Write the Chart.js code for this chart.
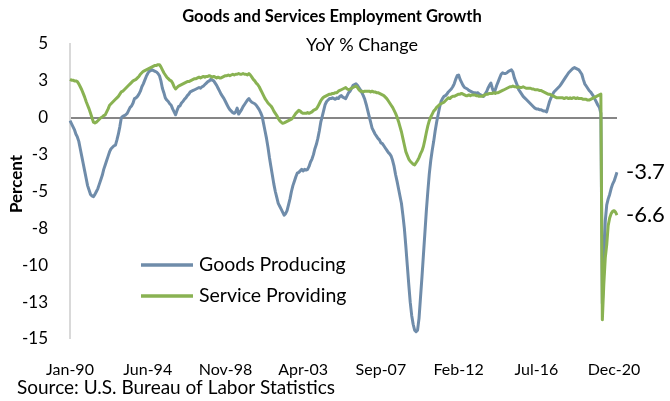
<!DOCTYPE html>
<html>
<head>
<meta charset="utf-8">
<script src="https://cdn.jsdelivr.net/npm/chart.js@4.4.1/dist/chart.umd.min.js"></script>
<style>
    body { margin: 0; background: #ffffff; }
    #grafica { display: block; }
</style>
</head>
<body>
<canvas id="grafica" width="670" height="401"></canvas>
<script>
// Datos mensuales, Jan-1990 a Feb-2021 (YoY % change)
let startYear = 1990;
let monthNames = ['Jan', 'Feb', 'Mar', 'Apr', 'May', 'Jun', 'Jul', 'Aug', 'Sep', 'Oct', 'Nov', 'Dec'];
let tickEvery = 53; // Jan-90, Jun-94, Nov-98 ... Dec-20

let goodsProducing = [
    -0.2, -0.4, -0.6, -0.8, -1.1, -1.3, -1.6, -2.1, -2.6, -3.1, -3.6, -4.1,
    -4.6, -4.9, -5.2, -5.3, -5.35, -5.2, -5.0, -4.8, -4.5, -4.2, -3.9, -3.5,
    -3.2, -2.9, -2.6, -2.3, -2.1, -2.0, -1.9, -1.85, -1.5, -1.1, -0.6, 0.0,
    0.1, 0.15, 0.2, 0.3, 0.5, 0.7, 0.8, 1.0, 1.3, 1.35, 1.45, 1.6,
    1.8, 2.1, 2.3, 2.55, 2.8, 3.0, 3.15, 3.2, 3.25, 3.2, 3.15, 3.1,
    3.0, 2.85, 2.5, 2.0, 1.7, 1.35, 1.2, 1.1, 0.95, 0.85, 0.6, 0.4,
    0.2, 0.5, 0.75, 0.8, 1.0, 1.1, 1.25, 1.35, 1.5, 1.6, 1.75, 1.8,
    1.85, 1.9, 1.95, 2.0, 2.05, 2.0, 2.1, 2.15, 2.25, 2.35, 2.45, 2.5,
    2.6, 2.55, 2.5, 2.35, 2.2, 2.0, 1.8, 1.6, 1.45, 1.3, 1.1, 0.9,
    0.7, 0.55, 0.45, 0.35, 0.3, 0.4, 0.65, 0.25, 0.4, 0.55, 0.75, 0.9,
    1.05, 1.2, 1.3, 1.15, 1.05, 1.0, 0.95, 0.85, 0.7, 0.55, 0.35, 0.1,
    -0.4, -0.9, -1.4, -2.0, -2.7, -3.3, -3.9, -4.5, -5.0, -5.4, -5.8, -6.0,
    -6.2, -6.4, -6.6, -6.5, -6.3, -5.9, -5.5, -5.0, -4.6, -4.3, -4.0, -3.75,
    -3.7, -3.6, -3.5, -3.6, -3.5, -3.55, -3.5, -3.3, -3.0, -2.8, -2.5, -2.1,
    -1.8, -1.4, -0.9, -0.3, 0.1, 0.5, 0.9, 1.1, 1.2, 1.3, 1.3, 1.35,
    1.3, 1.25, 1.35, 1.3, 1.45, 1.5, 1.4, 1.35, 1.3, 1.5, 1.7, 1.8,
    2.0, 2.2, 2.25, 2.3, 2.2, 2.05, 1.9, 1.7, 1.5, 1.25, 0.9, 0.5,
    0.1, -0.3, -0.7, -0.9, -1.1, -1.25, -1.4, -1.5, -1.7, -1.75, -1.9, -2.05,
    -2.2, -2.35, -2.45, -2.6, -2.9, -3.3, -3.85, -4.3, -4.8, -5.3, -5.8, -6.6,
    -7.5, -8.7, -10.0, -11.3, -12.5, -13.4, -14.0, -14.4, -14.5, -14.4, -13.6, -12.2,
    -10.8, -9.3, -7.8, -6.3, -5.0, -3.8, -2.9, -2.2, -1.6, -0.9, -0.3, 0.2,
    0.7, 1.1, 1.3, 1.45, 1.5, 1.6, 1.75, 1.85, 1.95, 2.1, 2.3, 2.6,
    2.85, 2.9, 2.6, 2.4, 2.2, 2.05, 2.0, 1.95, 1.85, 1.8, 1.75, 1.7,
    1.7, 1.65, 1.7, 1.6, 1.55, 1.5, 1.45, 1.6, 1.75, 2.0, 2.2, 2.35,
    2.0, 1.7, 1.9, 2.2, 2.45, 2.7, 2.95, 3.05, 3.0, 3.0, 3.05, 3.15,
    3.2, 3.25, 3.1, 2.7, 2.45, 2.2, 1.9, 1.75, 1.6, 1.45, 1.35, 1.25,
    1.15, 1.05, 0.95, 0.85, 0.75, 0.65, 0.6, 0.6, 0.55, 0.55, 0.5, 0.45,
    0.45, 0.4, 0.75, 1.1, 1.35, 1.55, 1.75, 1.85, 1.95, 2.05, 2.15, 2.3,
    2.45, 2.6, 2.75, 2.9, 3.05, 3.15, 3.25, 3.35, 3.4, 3.35, 3.3, 3.25,
    3.1, 2.95, 2.6, 2.3, 2.15, 2.0, 1.85, 1.75, 1.6, 1.45, 1.25, 1.05,
    0.85, 0.7, 0.3, -12.6, -10.2, -7.0, -5.9, -5.5, -5.2, -4.8, -4.5, -4.3,
    -4.0, -3.7
];

let serviceProviding = [
    2.6, 2.55, 2.55, 2.5, 2.5, 2.45, 2.3, 2.1, 1.9, 1.65, 1.4, 1.1,
    0.85, 0.6, 0.3, 0.0, -0.3, -0.35, -0.3, -0.2, -0.1, 0.0, 0.05, 0.15,
    0.2, 0.4, 0.6, 0.85, 0.95, 1.05, 1.15, 1.25, 1.35, 1.45, 1.6, 1.75,
    1.8, 1.9, 2.0, 2.1, 2.2, 2.3, 2.4, 2.5, 2.55, 2.6, 2.7, 2.8,
    2.95, 3.05, 3.15, 3.2, 3.25, 3.3, 3.35, 3.4, 3.45, 3.5, 3.55, 3.55,
    3.6, 3.6, 3.45, 3.25, 3.05, 2.9, 2.75, 2.65, 2.55, 2.5, 2.35, 2.1,
    1.95, 2.05, 2.15, 2.2, 2.25, 2.3, 2.35, 2.4, 2.45, 2.45, 2.5, 2.55,
    2.6, 2.65, 2.65, 2.7, 2.75, 2.7, 2.75, 2.8, 2.75, 2.8, 2.8, 2.85,
    2.8, 2.75, 2.8, 2.75, 2.7, 2.75, 2.7, 2.7, 2.75, 2.8, 2.85, 2.85,
    2.9, 2.85, 2.9, 2.95, 2.9, 2.95, 2.95, 3.0, 2.95, 2.95, 3.0, 2.95,
    2.95, 2.9, 3.0, 2.9, 2.75, 2.6, 2.5, 2.35, 2.25, 2.1, 1.9, 1.7,
    1.5, 1.3, 1.15, 1.0, 0.9, 0.8, 0.65, 0.45, 0.3, 0.15, -0.05, -0.2,
    -0.3, -0.38, -0.35, -0.3, -0.25, -0.2, -0.15, -0.1, 0.0, 0.15, 0.3, 0.4,
    0.5, 0.45, 0.35, 0.3, 0.3, 0.3, 0.35, 0.3, 0.35, 0.4, 0.5, 0.55,
    0.6, 0.75, 0.95, 1.15, 1.3, 1.4, 1.45, 1.5, 1.55, 1.6, 1.6, 1.65,
    1.65, 1.7, 1.7, 1.8, 1.85, 1.9, 1.95, 2.0, 2.05, 1.95, 1.9, 1.95,
    2.0, 2.05, 2.1, 2.15, 2.05, 1.9, 1.8, 1.8, 1.75, 1.8, 1.8, 1.8,
    1.8, 1.75, 1.8, 1.75, 1.75, 1.7, 1.7, 1.65, 1.6, 1.55, 1.5, 1.4,
    1.3, 1.15, 1.0, 0.85, 0.7, 0.5, 0.3, 0.05, -0.25, -0.6, -0.95, -1.4,
    -1.85, -2.3, -2.55, -2.8, -2.95, -3.05, -3.15, -3.2, -3.05, -2.9, -2.7, -2.45,
    -2.25, -1.95, -1.5, -1.0, -0.55, -0.2, 0.05, 0.25, 0.45, 0.55, 0.7, 0.8,
    0.9, 0.95, 1.0, 1.05, 1.15, 1.25, 1.35, 1.3, 1.4, 1.45, 1.45, 1.5,
    1.55, 1.6, 1.6, 1.65, 1.6, 1.55, 1.5, 1.5, 1.55, 1.5, 1.55, 1.55,
    1.55, 1.5, 1.5, 1.45, 1.45, 1.45, 1.5, 1.55, 1.6, 1.6, 1.65, 1.65,
    1.65, 1.7, 1.65, 1.7, 1.7, 1.75, 1.8, 1.85, 1.9, 1.95, 2.0, 2.05,
    2.1, 2.1, 2.15, 2.1, 2.1, 2.05, 2.1, 2.05, 2.05, 2.1, 2.05, 2.0,
    2.0, 2.0, 2.0, 1.95, 1.95, 1.9, 1.9, 1.9, 1.85, 1.85, 1.8, 1.75,
    1.7, 1.65, 1.6, 1.6, 1.55, 1.5, 1.45, 1.4, 1.35, 1.35, 1.35, 1.35,
    1.35, 1.3, 1.35, 1.35, 1.3, 1.35, 1.3, 1.35, 1.35, 1.3, 1.35, 1.3,
    1.3, 1.3, 1.25, 1.25, 1.25, 1.2, 1.2, 1.25, 1.3, 1.35, 1.4, 1.45,
    1.5, 1.55, 1.6, -13.7, -11.3, -9.5, -8.6, -7.3, -6.8, -6.5, -6.35, -6.3,
    -6.4, -6.6
];

let yTicks = { min: -15, max: 5, step: 2.5 };

// Etiquetas de mes tipo "Jan-90"
let categories = goodsProducing.map((v, i) => {
    let year = startYear + Math.floor(i / 12);
    return monthNames[i % 12] + '-' + String(year).slice(2);
});

let fontFamily = 'Lato, "Open Sans", sans-serif';
let blue = '#6f8caa';
let green = '#89b252';

// Redondeo tipo Excel (2.5 -> 3, -2.5 -> -3)
function roundExcel(v) {
    return Math.sign(v) * Math.round(Math.abs(v));
}

// Textos extra: titulo, leyenda, fuente y valores finales
let textPlugin = {
    id: 'textos',
    afterDraw(chart) {
        let ctx = chart.ctx;
        let y = chart.scales.y;
        ctx.save();
        ctx.fillStyle = '#000000';

        ctx.textAlign = 'center';
        ctx.textBaseline = 'middle';
        ctx.font = 'bold 16.5px ' + fontFamily;
        ctx.fillText('Goods and Services Employment Growth', 332, 17);
        ctx.font = '18px ' + fontFamily;
        ctx.fillText('YoY % Change', 362, 45);

        // Titulo del eje Y
        ctx.save();
        ctx.translate(17, 184);
        ctx.rotate(-Math.PI / 2);
        ctx.font = 'bold 17px ' + fontFamily;
        ctx.fillText('Percent', 0, 0);
        ctx.restore();

        // Leyenda dentro del area
        let items = [
            { text: 'Goods Producing', color: blue, y: 265 },
            { text: 'Service Providing', color: green, y: 296 }
        ];
        ctx.textAlign = 'left';
        ctx.font = '19.5px ' + fontFamily;
        items.forEach(it => {
            ctx.strokeStyle = it.color;
            ctx.lineWidth = 3.5;
            ctx.beginPath();
            ctx.moveTo(141, it.y);
            ctx.lineTo(193, it.y);
            ctx.stroke();
            ctx.fillText(it.text, 199, it.y);
        });

        // Valores del ultimo mes
        ctx.font = '22px ' + fontFamily;
        let lastG = goodsProducing[goodsProducing.length - 1];
        let lastS = serviceProviding[serviceProviding.length - 1];
        ctx.fillText(lastG.toFixed(1), 626, y.getPixelForValue(lastG));
        ctx.fillText(lastS.toFixed(1), 626, y.getPixelForValue(lastS));

        // Fuente
        ctx.font = '19px ' + fontFamily;
        ctx.fillText('Source: U.S. Bureau of Labor Statistics', 17, 388);
        ctx.restore();
    }
};

function crearGrafica() {
    let ctx = document.getElementById('grafica').getContext('2d');

    let data = {
        labels: categories,
        datasets: [
            {
                label: 'Goods Producing',
                data: goodsProducing,
                borderColor: blue,
                borderWidth: 3,
                pointRadius: 0,
                tension: 0,
                borderJoinStyle: 'round',
                order: 2
            },
            {
                label: 'Service Providing',
                data: serviceProviding,
                borderColor: green,
                borderWidth: 3,
                pointRadius: 0,
                tension: 0,
                borderJoinStyle: 'round',
                order: 1
            }
        ]
    };

    let options = {
        responsive: false,
        animation: false,
        devicePixelRatio: 1,
        layout: { padding: { top: 44, right: 53, left: 0, bottom: 0 } },
        plugins: {
            legend: { display: false },
            title: { display: false },
            tooltip: { enabled: false }
        },
        scales: {
            x: {
                type: 'category',
                offset: false,
                grid: { display: false },
                border: { display: false },
                ticks: {
                    autoSkip: false,
                    maxRotation: 0,
                    padding: 13,
                    color: '#000000',
                    font: { family: fontFamily, size: 16 },
                    callback: function (val, i) {
                        return i % tickEvery === 0 ? this.getLabelForValue(val) : null;
                    }
                },
                afterFit: (scale) => { scale.height = 62; }
            },
            y: {
                min: yTicks.min,
                max: yTicks.max,
                grid: {
                    drawTicks: false,
                    color: (c) => c.tick && c.tick.value === 0 ? '#868686' : 'rgba(0,0,0,0)',
                    lineWidth: (c) => c.tick && c.tick.value === 0 ? 2 : 0
                },
                border: { display: true, color: '#d9d9d9', width: 2 },
                ticks: {
                    stepSize: yTicks.step,
                    padding: 22,
                    color: '#000000',
                    font: { family: fontFamily, size: 17 },
                    callback: (v) => String(roundExcel(v))
                },
                afterFit: (scale) => { scale.width = 70; }
            }
        }
    };

    window.myChart = new Chart(ctx, {
        type: 'line',
        data: data,
        options: options,
        plugins: [textPlugin]
    });
}

crearGrafica();
</script>
</body>
</html>
